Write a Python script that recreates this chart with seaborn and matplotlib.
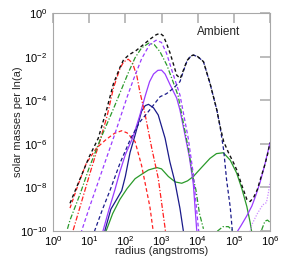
import numpy as np
import pandas as pd
import matplotlib
matplotlib.use("Agg")
import matplotlib.pyplot as plt
import seaborn as sns
from matplotlib.ticker import LogFormatterMathtext, NullLocator

# ---- data (log10 radius, log10 mass) ----
total_lx = [0.47, 0.75, 1.0, 1.25, 1.48, 1.67, 1.85, 1.95, 2.1, 2.3, 2.5, 2.7, 2.85, 2.96, 3.05, 3.14, 3.24, 3.34, 3.42, 3.52, 3.6, 3.70, 3.80, 3.88, 4.0, 4.16, 4.34, 4.53, 4.62, 4.72, 4.85, 5.0, 5.08, 5.22, 5.36, 5.45, 5.55, 5.65, 5.72, 5.85, 5.93, 6.0]
total_ly = [-8.73, -7.6, -6.6, -5.75, -4.45, -3.25, -2.5, -2.15, -1.92, -1.72, -1.45, -1.18, -1.0, -0.93, -1.05, -1.4, -1.85, -2.4, -2.85, -3.0, -2.65, -2.2, -1.98, -1.93, -2.0, -2.23, -3.22, -4.45, -5.2, -5.9, -6.4, -6.9, -7.2, -7.9, -8.55, -8.65, -8.45, -8.1, -7.7, -7.0, -6.5, -5.95]

red_dd_lx = [0.48, 0.56, 0.8, 1.05, 1.30, 1.5, 1.67, 1.85, 1.95, 2.08, 2.2, 2.32, 2.40, 2.54, 2.73, 2.91, 3.10, 3.14]
red_dd_ly = [-10.4, -9.95, -8.6, -7.2, -5.85, -4.7, -3.45, -2.55, -2.25, -2.12, -2.3, -2.9, -3.6, -4.6, -6.2, -7.58, -9.88, -10.4]

red_d_lx = [0.47, 0.7, 0.92, 1.2, 1.47, 1.7, 1.9, 2.05, 2.27, 2.45, 2.68, 2.77, 2.8]
red_d_ly = [-8.95, -7.85, -6.9, -6.2, -5.8, -5.52, -5.4, -5.5, -5.9, -7.0, -8.9, -10.0, -10.4]

green_dd_lx = [0.40, 0.47, 0.75, 1.0, 1.30, 1.67, 2.08, 2.27, 2.45, 2.65, 2.8, 2.96, 3.15, 3.33, 3.46, 3.6, 3.74, 3.88, 3.95, 4.05, 4.16]
green_dd_ly = [-9.9, -9.5, -8.3, -7.1, -5.83, -4.4, -2.75, -2.05, -1.6, -1.38, -1.45, -1.78, -2.4, -3.2, -3.8, -5.0, -6.2, -7.6, -8.1, -9.2, -9.9]

green_b1_lx = [4.40, 4.55, 4.7, 4.85, 4.98, 5.08]
green_b1_ly = [-10.4, -10.0, -9.8, -9.8, -10.0, -10.4]
green_b2_lx = [5.70, 5.78, 5.86, 5.93, 6.0]
green_b2_ly = [-10.4, -9.9, -9.55, -9.5, -9.6]

purple_d_lx = [0.72, 0.8, 1.0, 1.25, 1.5, 1.7, 1.9, 2.05, 2.22, 2.45, 2.67, 2.85, 3.0, 3.14, 3.3, 3.51, 3.74, 3.88, 4.02, 4.06]
purple_d_ly = [-10.4, -9.95, -8.95, -7.75, -6.55, -5.6, -4.6, -3.85, -3.07, -2.1, -1.45, -1.25, -1.35, -1.85, -2.7, -3.76, -5.75, -7.4, -9.88, -10.4]

purple_s1_lx = [1.33, 1.39, 1.55, 1.71, 1.85, 2.0, 2.21, 2.4, 2.55, 2.67, 2.78, 2.9, 3.0, 3.1, 3.24, 3.42, 3.51, 3.65, 3.77, 3.88, 3.97, 4.0]
purple_s1_ly = [-10.3, -9.95, -9.0, -8.12, -7.28, -6.5, -5.7, -4.7, -3.8, -3.15, -2.8, -2.63, -2.62, -2.8, -3.3, -3.9, -4.45, -5.6, -6.6, -7.85, -9.88, -10.3]

purple_s2_lx = [4.92, 5.03, 5.2, 5.36, 5.5, 5.6, 5.72, 5.85, 6.0]
purple_s2_ly = [-10.4, -10.2, -9.75, -9.3, -8.85, -8.4, -7.8, -7.0, -5.95]

violet_dot_lx = [5.38, 5.5, 5.65, 5.8, 5.9, 5.95, 6.0]
violet_dot_ly = [-10.4, -9.7, -9.2, -8.8, -8.7, -8.3, -7.75]

navy_s_lx = [1.40, 1.44, 1.60, 1.76, 1.90, 2.0, 2.13, 2.27, 2.45, 2.55, 2.64, 2.78, 2.91, 3.10, 3.23, 3.37, 3.51, 3.60, 3.63]
navy_s_ly = [-10.3, -9.95, -9.0, -8.55, -8.15, -7.5, -6.4, -5.6, -4.5, -4.25, -4.19, -4.35, -4.68, -5.75, -6.82, -7.74, -8.96, -9.95, -10.3]

navy_d_lx = [1.10, 1.16, 1.37, 1.58, 1.85, 2.15, 2.40, 2.6, 2.96, 3.14, 3.33, 3.51, 3.62, 3.70, 3.80, 3.88, 4.0, 4.16, 4.34, 4.53, 4.62, 4.72, 4.80, 4.90, 4.98]
navy_d_ly = [-10.3, -9.95, -9.0, -8.12, -6.9, -5.75, -5.0, -4.6, -3.84, -3.7, -3.45, -3.15, -2.6, -2.23, -2.0, -1.93, -2.0, -2.23, -3.22, -4.45, -5.22, -6.3, -7.66, -8.9, -10.4]

green_s_lx = [1.38, 1.48, 1.65, 1.85, 2.05, 2.27, 2.45, 2.64, 2.87, 3.0, 3.19, 3.38, 3.56, 3.72, 3.88, 4.1, 4.34, 4.52, 4.71, 4.9, 5.08, 5.22, 5.36, 5.45, 5.52]
green_s_ly = [-10.3, -9.95, -9.2, -8.55, -8.05, -7.6, -7.4, -7.2, -7.09, -7.15, -7.5, -7.75, -7.81, -7.7, -7.5, -7.1, -6.67, -6.45, -6.41, -6.75, -7.35, -8.05, -8.88, -9.6, -10.3]

x_ticks = [1e0, 1e1, 1e2, 1e3, 1e4, 1e5, 1e6]
y_ticks = [1e-10, 1e-8, 1e-6, 1e-4, 1e-2, 1e0]

# ---- style ----
sns.set_style("white")
plt.rcParams["font.family"] = ["Liberation Sans", "DejaVu Sans"]
plt.rcParams["mathtext.default"] = "regular"

fig = plt.figure(figsize=(2.93, 2.58), dpi=100)
ax = fig.add_axes([53/293, 1-231/258, 217/293, 218/258])

RED = "#ff2020"
GREEN = "#2a9a2a"
PURPLE = "#9a3cff"
NAVY = "#1a1a8a"
VIOLET = "#cc8cff"
DASHDOT = (0, (4, 1.5, 1, 1.5))

curves = [
    (green_s_lx, green_s_ly, GREEN, "-", 0.9),
    (navy_s_lx, navy_s_ly, NAVY, "-", 0.9),
    (purple_s1_lx, purple_s1_ly, PURPLE, "-", 0.9),
    (purple_s2_lx, purple_s2_ly, PURPLE, "-", 0.9),
    (violet_dot_lx, violet_dot_ly, VIOLET, (0, (1, 1.2)), 0.9),
    (red_d_lx, red_d_ly, RED, (0, (3, 2)), 0.9),
    (red_dd_lx, red_dd_ly, RED, DASHDOT, 0.9),
    (green_dd_lx, green_dd_ly, GREEN, DASHDOT, 0.9),
    (green_b1_lx, green_b1_ly, GREEN, DASHDOT, 0.9),
    (green_b2_lx, green_b2_ly, GREEN, DASHDOT, 0.9),
    (purple_d_lx, purple_d_ly, PURPLE, (0, (3, 2)), 0.9),
    (navy_d_lx, navy_d_ly, NAVY, (0, (3, 2)), 0.9),
    (total_lx, total_ly, "#111111", (0, (2.5, 2)), 1.0),
]

for lx, ly, col, ls, lw in curves:
    df = pd.DataFrame({"radius": 10.0 ** np.array(lx), "mass": 10.0 ** np.array(ly)})
    sns.lineplot(data=df, x="radius", y="mass", ax=ax, color=col, linestyle=ls,
                 linewidth=lw, estimator=None, sort=False)

ax.set_xscale("log")
ax.set_yscale("log")
ax.set_xlim(1e0, 1e6)
ax.set_ylim(1e-10, 1e0)
ax.set_xticks(x_ticks)
ax.set_yticks(y_ticks)
ax.xaxis.set_major_formatter(LogFormatterMathtext())
ax.yaxis.set_major_formatter(LogFormatterMathtext())
ax.xaxis.set_minor_locator(NullLocator())
ax.yaxis.set_minor_locator(NullLocator())

ax.tick_params(axis="both", which="major", direction="in", length=7, width=1.2,
               color="#b0b0b0", labelsize=8, labelcolor="black",
               top=True, right=True)
ax.tick_params(axis="x", pad=2)
ax.tick_params(axis="y", pad=4)
for sp in ax.spines.values():
    sp.set_color("#a8a8a8")
    sp.set_linewidth(0.8)

ax.set_xlabel("radius (angstroms)", fontsize=8)
ax.set_ylabel("solar masses per ln(a)", fontsize=8)
ax.xaxis.set_label_coords(0.5, -0.07)
ax.yaxis.set_label_coords(-0.137, 0.5)
ax.text(0.765, 0.913, "Ambient", transform=ax.transAxes, ha="center", va="center", fontsize=8.5)

fig.savefig("out.png", dpi=100)
